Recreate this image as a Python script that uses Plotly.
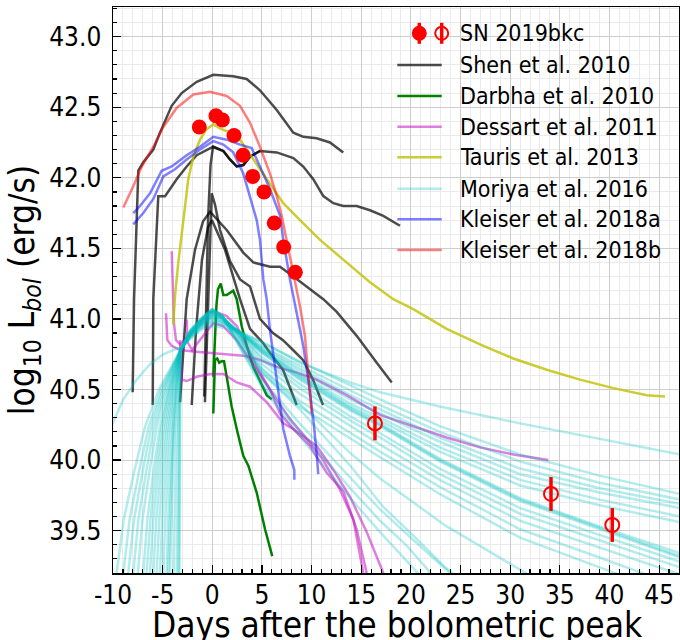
import plotly.graph_objects as go

# ---------------- data ----------------
X_TICKS = [-10, -5, 0, 5, 10, 15, 20, 25, 30, 35, 40, 45]
X_TICKTEXT = ["-10", "-5", "0", "5", "10", "15", "20", "25", "30", "35", "40", "45"]
Y_TICKS = [39.5, 40.0, 40.5, 41.0, 41.5, 42.0, 42.5, 43.0]
Y_TICKTEXT = ["39.5", "40.0", "40.5", "41.0", "41.5", "42.0", "42.5", "43.0"]
X_LABEL = "Days after the bolometric peak"
Y_LABEL = "log<sub>10</sub> L<sub><i>bol</i></sub> (erg/s)"

# SN 2019bkc
SN_DAY = [-1.31, 0.37, 1.01, 2.19, 3.09, 4.07, 5.21, 6.24, 7.19, 8.36]
SN_LOGL = [42.36, 42.44, 42.41, 42.30, 42.16, 42.01, 41.90, 41.68, 41.51, 41.33]
SN_ERR = [0.02, 0.02, 0.02, 0.02, 0.02, 0.02, 0.02, 0.02, 0.02, 0.02]
SN_LATE_DAY = [16.38, 34.11, 40.28]
SN_LATE_LOGL = [40.26, 39.76, 39.54]
SN_LATE_ERR = [0.12, 0.12, 0.12]

# Shen et al. 2010
SHEN_DAYS = [
    [-8.02, -7.88, -7.45, -6.95, -5.94, -5.27, -4.09, -3.08, -1.57, 0.10, 2.11, 3.46, 4.80, 6.49, 8.16, 9.16, 10.51, 11.85, 13.19],
    [-6.00, -5.94, -5.44, -4.76, -4.26, -3.59, -2.58, -1.57, 0.10, 1.11, 1.78, 2.46, 3.12, 3.80, 4.80, 6.49, 8.16, 9.16, 10.17, 11.18, 12.19, 13.19, 14.54, 15.88, 17.22, 18.90],
    [-3.25, -2.58, -1.74, -0.94, -0.23, 1.45, 3.12, 4.13, 5.81, 6.82, 8.16, 9.84, 11.18, 12.53, 14.54, 16.56, 18.07],
    [-0.74, -0.43, -0.23, -0.06, 0.27, 0.78, 1.78, 2.79, 3.80, 4.80, 6.11, 7.12, 8.13, 9.13, 10.14, 11.15],
    [-2.07, -1.64, -1.04, -0.43, -0.03, 1.28, 2.79, 3.80, 5.11, 6.11, 7.12, 7.82, 8.50],
    [-0.81, -0.63, -0.43, -0.18, 0.07, 1.11, 1.78, 2.46, 3.12, 3.80, 4.80],
]
SHEN_LOGL = [
    [40.48, 41.14, 42.05, 42.11, 42.20, 42.32, 42.51, 42.60, 42.68, 42.73, 42.72, 42.70, 42.62, 42.48, 42.32, 42.29, 42.28, 42.25, 42.18],
    [40.39, 41.14, 41.87, 41.87, 41.92, 41.99, 42.08, 42.16, 42.22, 42.19, 42.13, 42.08, 42.09, 42.15, 42.19, 42.18, 42.14, 42.08, 41.99, 41.87, 41.82, 41.80, 41.80, 41.77, 41.73, 41.66],
    [40.41, 41.14, 41.49, 41.69, 41.76, 41.63, 41.47, 41.40, 41.37, 41.37, 41.30, 41.21, 41.14, 41.05, 40.88, 40.69, 40.55],
    [40.41, 41.14, 41.63, 41.89, 41.81, 41.63, 41.41, 41.28, 41.23, 41.00, 40.90, 40.85, 40.78, 40.71, 40.57, 40.39],
    [40.39, 40.92, 41.42, 41.65, 41.70, 41.49, 41.14, 40.93, 40.83, 40.73, 40.64, 40.52, 40.39],
    [40.45, 41.14, 41.70, 42.09, 42.22, 42.19, 42.13, 42.08, 42.09, 42.15, 42.19],
]

# Darbha et al. 2010
DARBHA_DAYS = [
    [0.10, 0.27, 0.42, 0.57, 0.85, 1.11, 1.45, 2.11, 2.46, 2.96, 3.46, 4.13, 4.80, 5.48, 5.98],
    [0.10, 0.17, 0.27, 0.50, 0.70, 0.95, 1.18, 1.45, 1.95, 2.46, 3.12, 3.63, 4.47, 5.31, 6.04],
]
DARBHA_LOGL = [
    [40.59, 40.85, 41.10, 41.21, 41.25, 41.17, 41.17, 41.20, 41.14, 40.95, 40.81, 40.66, 40.56, 40.46, 40.43],
    [40.33, 40.57, 40.71, 40.72, 40.69, 40.70, 40.70, 40.59, 40.38, 40.22, 40.03, 39.96, 39.77, 39.51, 39.32],
]

# Dessart et al. 2011
DESSART_DAYS = [
    [-4.66, -4.53, -4.09, -3.25, -1.91, -0.23, 1.45, 3.12, 4.80, 6.49, 8.50, 10.51, 13.53, 16.89, 20.24, 23.60, 26.96, 30.31, 33.84],
    [-4.09, -3.86, -3.66, -3.25, -2.25, -1.24, -0.23, 0.37, 1.45, 2.46, 3.46, 4.47, 5.81, 6.82, 8.16, 9.84, 11.52, 13.19, 14.54, 15.55],
    [-3.25, -3.08, -2.58, -1.57, -0.23, 1.11, 2.46, 3.80, 5.48, 7.15, 8.16, 9.16, 10.51, 12.19, 13.87, 15.55, 17.22],
    [-2.58, -2.52, -2.04, -1.24, 0.10, 1.08, 2.46, 3.80, 5.11, 6.49, 7.82, 9.51, 11.18, 12.86, 14.20, 15.21],
]
DESSART_LOGL = [
    [41.04, 40.85, 40.81, 40.78, 40.77, 40.76, 40.75, 40.74, 40.71, 40.66, 40.62, 40.57, 40.46, 40.32, 40.24, 40.16, 40.09, 40.04, 40.00],
    [41.48, 40.97, 40.85, 40.82, 40.89, 40.98, 41.05, 41.05, 41.02, 40.95, 40.81, 40.66, 40.50, 40.33, 40.22, 40.10, 39.91, 39.78, 39.51, 39.20],
    [40.85, 40.57, 40.56, 40.59, 40.61, 40.61, 40.55, 40.52, 40.41, 40.26, 40.22, 40.17, 40.10, 39.93, 39.74, 39.49, 39.20],
    [40.995, 40.84, 40.78, 40.85, 40.97, 40.95, 40.85, 40.71, 40.57, 40.43, 40.29, 40.15, 40.00, 39.79, 39.58, 39.20],
]

# Tauris et al. 2013
TAURIS_DAY = [-3.93, -3.76, -3.42, -2.92, -2.42, -1.91, -1.24, -0.63, 0.10, 0.78, 1.78, 2.79, 4.13, 5.48, 7.15, 8.83, 10.85, 13.19, 15.88, 18.23, 20.24, 23.60, 26.96, 30.31, 33.68, 37.03, 40.38, 43.75, 45.59]
TAURIS_LOGL = [40.96, 41.16, 41.40, 41.68, 41.99, 42.15, 42.27, 42.34, 42.38, 42.35, 42.32, 42.27, 42.13, 41.99, 41.82, 41.70, 41.56, 41.42, 41.26, 41.14, 41.07, 40.93, 40.82, 40.72, 40.64, 40.57, 40.51, 40.46, 40.45]

# Moriya et al. 2016
MORIYA_DAYS = [
    [-10.3, -8.96, -7.61, -6.27, -4.93, -3.2, -2.2, -1.0, 0.0, 1.0, 2.5, 5.0, 8.8, 13.9, 16.9, 22.9, 31.0, 39.0, 47.1],
    [-9.63, -8.92, -7.83, -6.80, -5.32, -3.2, -2.2, -1.0, 0.0, 1.0, 2.5, 5.0, 8.8, 13.9, 16.9, 22.9, 31.0, 39.0, 47.1],
    [-6.95, -6.54, -5.90, -5.30, -4.44, -3.2, -2.2, -1.0, 0.0, 1.0, 2.5, 5.0, 8.8, 13.9, 16.9, 22.9, 31.0, 39.0, 47.1],
    [-5.60, -5.34, -4.93, -4.54, -3.99, -3.2, -2.2, -1.0, 0.0, 1.0, 2.5, 5.0, 8.8, 13.9, 16.9, 22.9, 31.0, 39.0, 47.1],
    [-8.46, -7.88, -6.99, -6.15, -4.94, -3.2, -2.2, -1.0, 0.0, 1.0, 2.5, 5.0, 8.8, 13.9, 16.9, 22.9, 31.0, 39.0, 47.1],
    [-4.43, -4.29, -4.09, -3.89, -3.61, -3.2, -2.2, -1.0, 0.0, 1.0, 2.5, 5.0, 8.8, 13.9, 16.9, 22.9, 31.0, 39.0, 47.1],
    [-7.50, -7.03, -6.30, -5.61, -4.62, -3.2, -2.2, -1.0, 0.0, 1.0, 2.5, 5.0, 8.8, 13.9, 16.9, 22.9, 31.0, 39.0, 47.1],
    [-4.60, -4.45, -4.21, -3.98, -3.66, -3.2, -2.2, -1.0, 0.0, 1.0, 2.5, 5.0, 8.8, 13.9, 16.9, 22.9, 31.0, 39.0, 47.1],
    [-4.93, -4.74, -4.45, -4.17, -3.77, -3.2, -2.2, -1.0, 0.0, 1.0, 2.5, 5.0, 8.8, 13.9, 16.9, 22.9, 31.0, 39.0, 47.1],
    [-5.27, -5.04, -4.69, -4.36, -3.88, -3.2, -2.2, -1.0, 0.0, 1.0, 2.5, 5.0, 8.8, 13.9, 16.9, 22.9, 31.0, 39.0, 47.1],
    [-8.96, -8.33, -7.35, -6.43, -5.10, -3.2, -2.2, -1.0, 0.0, 1.0, 2.5, 5.0, 8.8, 13.9, 16.9, 22.9, 31.0, 39.0, 47.1],
    [-6.28, -5.94, -5.42, -4.92, -4.22, -3.2, -2.2, -1.0, 0.0, 1.0, 2.5, 5.0, 8.8, 13.9, 16.9, 22.9, 31.0, 39.0, 47.1],
    [-3.90, -3.82, -3.70, -3.59, -3.43, -3.2, -2.2, -1.0, 0.0, 1.0, 2.5, 5.0, 8.8, 13.9, 16.9, 22.9, 31.0, 39.0, 47.1],
    [-7.96, -7.44, -6.63, -5.87, -4.77, -3.2, -2.2, -1.0, 0.0, 1.0, 2.5, 5.0, 8.8, 13.9, 16.9, 22.9, 31.0, 39.0, 47.1],
    [-5.94, -5.64, -5.17, -4.73, -4.10, -3.2, -2.2, -1.0, 0.0, 1.0, 2.5, 5.0, 8.8, 13.9, 16.9, 22.9, 31.0, 39.0, 47.1],
    [-6.61, -6.23, -5.66, -5.11, -4.33, -3.2, -2.2, -1.0, 0.0, 1.0, 2.5, 5.0, 8.8, 13.9, 16.9, 20.2, 23.6, 27.0, 30.3, 33.0],
    [-4.26, -4.14, -3.96, -3.79, -3.55, -3.2, -2.2, -1.0, 0.0, 1.0, 2.5, 5.0, 8.8, 13.9, 17.2, 20.6, 23.3, 25.5],
    [-3.59, -3.55, -3.48, -3.42, -3.33, -3.2, -2.2, -1.0, 0.0, 1.0, 2.5, 5.0, 8.8, 13.9, 16.9, 20.0, 23.9, 25.5],
    [-3.40, -3.38, -3.34, -3.31, -3.27, -3.2, -2.2, -1.0, 0.0, 1.0, 2.5, 5.0, 8.8, 13.9, 16.9, 19.5, 21.5, 23.0],
    [-3.30, -3.29, -3.27, -3.26, -3.23, -3.2, -2.2, -1.0, 0.0, 1.0, 2.5, 5.0, 8.8, 13.9, 16.9, 19.0, 20.7, 22.0],
]
MORIYA_LOGL = [
    [40.22, 40.43, 40.57, 40.68, 40.75, 40.80, 40.86, 40.93, 40.95, 40.94, 40.91, 40.84, 40.69, 40.55, 40.48, 40.38, 40.26, 40.15, 40.04],
    [39.20, 39.58, 39.93, 40.23, 40.51, 40.78, 40.87, 40.94, 40.97, 40.96, 40.92, 40.83, 40.70, 40.53, 40.43, 40.24, 40.04, 39.89, 39.76],
    [39.20, 39.58, 39.93, 40.23, 40.51, 40.78, 40.87, 40.95, 40.98, 40.97, 40.92, 40.81, 40.67, 40.49, 40.39, 40.20, 39.99, 39.84, 39.72],
    [39.20, 39.58, 39.93, 40.23, 40.51, 40.78, 40.88, 40.96, 40.99, 40.98, 40.92, 40.80, 40.65, 40.46, 40.36, 40.16, 39.94, 39.80, 39.69],
    [39.20, 39.58, 39.93, 40.23, 40.51, 40.78, 40.88, 40.96, 41.00, 40.98, 40.92, 40.79, 40.63, 40.43, 40.33, 40.13, 39.90, 39.77, 39.66],
    [39.20, 39.58, 39.93, 40.23, 40.51, 40.78, 40.88, 40.97, 41.01, 40.99, 40.92, 40.78, 40.61, 40.40, 40.30, 40.09, 39.86, 39.72, 39.60],
    [39.20, 39.58, 39.93, 40.23, 40.51, 40.78, 40.89, 40.97, 41.02, 41.00, 40.92, 40.78, 40.60, 40.38, 40.28, 40.06, 39.82, 39.68, 39.56],
    [39.20, 39.58, 39.93, 40.23, 40.51, 40.78, 40.89, 40.98, 41.03, 41.01, 40.92, 40.76, 40.58, 40.36, 40.25, 40.00, 39.72, 39.52, 39.32],
    [39.20, 39.58, 39.93, 40.23, 40.51, 40.78, 40.89, 40.98, 41.03, 41.01, 40.92, 40.77, 40.59, 40.37, 40.26, 40.01, 39.73, 39.53, 39.34],
    [39.20, 39.58, 39.93, 40.23, 40.51, 40.78, 40.89, 40.97, 41.02, 41.00, 40.91, 40.76, 40.57, 40.35, 40.24, 39.99, 39.71, 39.51, 39.31],
    [39.20, 39.58, 39.93, 40.23, 40.51, 40.78, 40.90, 40.98, 41.04, 41.01, 40.91, 40.73, 40.54, 40.31, 40.19, 39.94, 39.66, 39.47, 39.28],
    [39.20, 39.58, 39.93, 40.23, 40.51, 40.78, 40.90, 40.99, 41.04, 41.01, 40.91, 40.71, 40.51, 40.28, 40.16, 39.90, 39.62, 39.43, 39.24],
    [39.20, 39.58, 39.93, 40.23, 40.51, 40.78, 40.90, 40.99, 41.05, 41.02, 40.90, 40.68, 40.47, 40.24, 40.11, 39.86, 39.57, 39.38, 39.19],
    [39.20, 39.58, 39.93, 40.23, 40.51, 40.78, 40.91, 41.00, 41.05, 41.02, 40.90, 40.65, 40.42, 40.19, 40.06, 39.81, 39.51, 39.31, 39.10],
    [39.20, 39.58, 39.93, 40.23, 40.51, 40.78, 40.91, 41.00, 41.06, 41.02, 40.89, 40.62, 40.38, 40.15, 40.02, 39.76, 39.45, 39.24, 39.03],
    [39.20, 39.58, 39.93, 40.23, 40.51, 40.78, 40.91, 41.00, 41.06, 41.02, 40.88, 40.64, 40.40, 40.05, 39.87, 39.70, 39.53, 39.39, 39.25, 39.14],
    [39.20, 39.58, 39.93, 40.23, 40.51, 40.78, 40.91, 41.00, 41.06, 41.01, 40.86, 40.62, 40.36, 39.96, 39.67, 39.44, 39.25, 39.12],
    [39.20, 39.58, 39.93, 40.23, 40.51, 40.78, 40.92, 41.01, 41.07, 41.02, 40.85, 40.57, 40.26, 39.88, 39.65, 39.45, 39.20, 39.10],
    [39.20, 39.58, 39.93, 40.23, 40.51, 40.78, 40.92, 41.01, 41.07, 41.02, 40.84, 40.54, 40.21, 39.80, 39.57, 39.40, 39.24, 39.10],
    [39.20, 39.58, 39.93, 40.23, 40.51, 40.78, 40.92, 41.01, 41.07, 41.02, 40.83, 40.52, 40.17, 39.73, 39.49, 39.33, 39.20, 39.10],
]

# Kleiser et al. 2018a
KLEISER_A_DAYS = [
    [-7.96, -7.28, -6.27, -5.10, -4.09, -2.58, -1.24, 0.10, 1.45, 2.79, 3.97, 4.80, 5.81, 6.82, 7.15, 7.82, 8.50, 9.16, 9.67, 10.17, 10.51, 10.67],
    [-7.96, -6.95, -5.94, -4.93, -3.76, -2.58, -1.24, 0.10, 1.11, 2.11, 3.12, 3.80, 4.47, 4.80, 5.14, 5.48, 5.81, 6.49, 7.15, 7.82, 8.26, 8.26],
]
KLEISER_A_LOGL = [
    [41.75, 41.80, 41.89, 42.05, 42.08, 42.16, 42.22, 42.29, 42.27, 42.235, 42.21, 42.08, 41.92, 41.73, 41.56, 41.28, 41.04, 40.81, 40.57, 40.29, 40.05, 39.90],
    [41.67, 41.75, 41.85, 42.01, 42.06, 42.13, 42.20, 42.26, 42.235, 42.18, 42.03, 41.87, 41.70, 41.56, 41.28, 41.14, 40.92, 40.57, 40.22, 40.03, 39.93, 39.86],
]

# Kleiser et al. 2018b
KLEISER_B_DAY = [-8.96, -7.96, -7.11, -5.94, -4.93, -3.59, -1.91, -0.23, 1.45, 2.79, 3.80, 4.80, 5.81, 6.49, 6.99, 7.49, 8.33, 8.83, 9.33, 9.67, 10.01]
KLEISER_B_LOGL = [41.79, 41.94, 42.08, 42.22, 42.36, 42.495, 42.59, 42.61, 42.58, 42.51, 42.39, 42.22, 42.03, 41.87, 41.73, 41.56, 41.28, 41.09, 40.88, 40.62, 40.33]

LEGEND_LABELS = ["SN 2019bkc", "Shen et al. 2010", "Darbha et al. 2010", "Dessart et al. 2011",
                 "Tauris et al. 2013", "Moriya et al. 2016", "Kleiser et al. 2018a", "Kleiser et al. 2018b"]

# ---------------- styles ----------------
FONT = "DejaVu Sans Condensed, DejaVu Sans, sans-serif"
C_SHEN = "rgba(0,0,0,0.7)"
C_DARBHA = "rgb(0,128,0)"
C_DESSART = "rgba(191,0,191,0.5)"
C_TAURIS = "rgba(191,191,0,0.8)"
C_MORIYA = "rgba(0,191,191,0.3)"
C_KA = "rgba(0,0,255,0.5)"
C_KB = "rgba(255,0,0,0.5)"
LW = 2.5

fig = go.Figure()


def add_lines(days_list, logl_list, color):
    for d, l in zip(days_list, logl_list):
        fig.add_trace(go.Scatter(x=d, y=l, mode="lines", line=dict(color=color, width=LW),
                                 showlegend=False, hoverinfo="skip"))


add_lines(SHEN_DAYS, SHEN_LOGL, C_SHEN)
add_lines(DARBHA_DAYS, DARBHA_LOGL, C_DARBHA)
add_lines(DESSART_DAYS, DESSART_LOGL, C_DESSART)
add_lines([TAURIS_DAY], [TAURIS_LOGL], C_TAURIS)
add_lines(MORIYA_DAYS, MORIYA_LOGL, C_MORIYA)
add_lines(KLEISER_A_DAYS, KLEISER_A_LOGL, C_KA)
add_lines([KLEISER_B_DAY], [KLEISER_B_LOGL], C_KB)

fig.add_trace(go.Scatter(
    x=SN_DAY, y=SN_LOGL, mode="markers",
    marker=dict(symbol="circle", size=15, color="red", line=dict(width=0)),
    error_y=dict(type="data", array=SN_ERR, color="red", thickness=3.5, width=0),
    showlegend=False))
fig.add_trace(go.Scatter(
    x=SN_LATE_DAY, y=SN_LATE_LOGL, mode="markers",
    marker=dict(symbol="circle-open", size=14, color="red", line=dict(width=2, color="red")),
    error_y=dict(type="data", array=SN_LATE_ERR, color="red", thickness=3.5, width=0),
    showlegend=False))

# ---------------- manual legend (matplotlib-like, no frame) ----------------
ML, MR, MT, MB = 113, 1, 7, 67
W, H = 680, 640
PW, PH = W - ML - MR, H - MT - MB


def px2paper_x(px):
    return (px - ML) / PW


def px2paper_y(py):
    return (H - MB - py) / PH


row_y = [33.3, 65.0, 96.0, 126.7, 157.3, 188.7, 219.3, 250.0]
line_colors = [None, C_SHEN, C_DARBHA, C_DESSART, C_TAURIS, C_MORIYA, C_KA, C_KB]
shapes = []
annotations = []
for lab, yy, col in zip(LEGEND_LABELS, row_y, line_colors):
    yp = px2paper_y(yy)
    if col is not None:
        shapes.append(dict(type="line", xref="paper", yref="paper",
                           x0=px2paper_x(397.3), x1=px2paper_x(441.7), y0=yp, y1=yp,
                           line=dict(color=col, width=LW)))
    annotations.append(dict(x=px2paper_x(458.3), y=yp, xref="paper", yref="paper",
                            text=lab, showarrow=False, xanchor="left", yanchor="middle",
                            font=dict(family=FONT, size=23, color="black")))

ysn = px2paper_y(row_y[0])
for xc, filled in [(419.3, True), (441.7, False)]:
    xa = px2paper_x(xc)
    shapes.append(dict(type="line", xref="paper", yref="paper", xsizemode="pixel", ysizemode="pixel",
                       xanchor=xa, yanchor=ysn, x0=0, x1=0, y0=-10.5, y1=10.5,
                       line=dict(color="red", width=3.5)))
    if filled:
        shapes.append(dict(type="circle", xref="paper", yref="paper", xsizemode="pixel", ysizemode="pixel",
                           xanchor=xa, yanchor=ysn, x0=-7.5, x1=7.5, y0=-7.5, y1=7.5,
                           fillcolor="red", line=dict(color="red", width=0)))
    else:
        shapes.append(dict(type="circle", xref="paper", yref="paper", xsizemode="pixel", ysizemode="pixel",
                           xanchor=xa, yanchor=ysn, x0=-6.5, x1=6.5, y0=-6.5, y1=6.5,
                           fillcolor="rgba(0,0,0,0)", line=dict(color="red", width=2)))

# x-axis label as an annotation so it can sit partly below the page edge, as in the reference
annotations.append(dict(x=px2paper_x(397.5), y=px2paper_y(625), xref="paper", yref="paper",
                        text=X_LABEL, showarrow=False, xanchor="center", yanchor="middle",
                        font=dict(family=FONT, size=35, color="black")))

axis_common = dict(
    showline=True, linecolor="black", linewidth=1.5, mirror=True,
    ticks="inside", ticklen=8, tickwidth=1.2, tickcolor="black",
    showgrid=True, gridcolor="#cdcdcd", gridwidth=1, zeroline=False,
    automargin=False,
    tickfont=dict(family=FONT, size=26, color="black"),
)

fig.update_layout(
    width=W, height=H,
    margin=dict(l=ML, r=MR, t=MT, b=MB, pad=0, autoexpand=False),
    paper_bgcolor="white", plot_bgcolor="white",
    showlegend=False,
    shapes=shapes, annotations=annotations,
    xaxis=dict(range=[-10, 47], tickmode="array", tickvals=X_TICKS, ticktext=X_TICKTEXT,
               minor=dict(tick0=0, dtick=1, ticks="inside", ticklen=4, tickcolor="black",
                          showgrid=True, gridcolor="#ebebeb", gridwidth=1),
               ticklabelstandoff=-2,
               **axis_common),
    yaxis=dict(range=[39.2, 43.21], tickmode="array", tickvals=Y_TICKS, ticktext=Y_TICKTEXT,
               minor=dict(tick0=39.0, dtick=0.1, ticks="inside", ticklen=4, tickcolor="black",
                          showgrid=True, gridcolor="#ebebeb", gridwidth=1),
               title=dict(text=Y_LABEL, standoff=4,
                          font=dict(family=FONT, size=35, color="black")),
               ticklabelstandoff=5,
               **axis_common),
)

fig.write_html(
    "out.html",
    config={"displayModeBar": False, "staticPlot": True},
    post_script="document.body.style.margin='0px';document.body.style.padding='0px';"
                "document.body.style.overflow='hidden';",
)
